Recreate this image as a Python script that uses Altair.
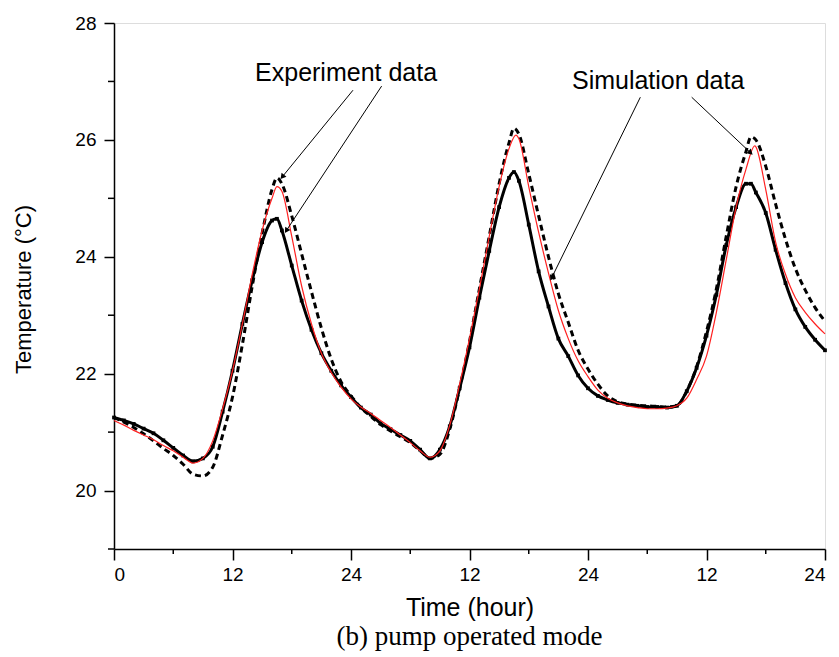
import math
import altair as alt
import pandas as pd

# ---- data ----
hours_exp = [0, 1, 2, 3, 4, 5, 6, 7, 8, 9, 10, 11, 12, 13, 14, 15, 16, 16.5, 17, 18, 19, 20,
             21, 22, 23, 24, 25, 26, 27, 28, 29, 30, 31, 32, 33, 34, 35, 36, 37, 38, 39, 40, 40.5,
             41, 42, 43, 44, 45, 46, 47, 48, 49, 50, 51, 52, 53, 54, 55, 56, 57, 58, 59, 60,
             61, 62, 63, 64, 64.5, 65, 66, 67, 68, 69, 70, 71, 72]

exp_solid = [21.25, 21.20, 21.14, 21.06, 20.98, 20.86, 20.73, 20.60, 20.50, 20.55, 20.75, 21.35,
             22.05, 22.85, 23.60, 24.25, 24.62, 24.65, 24.45, 23.85, 23.25, 22.75, 22.35, 22.05,
             21.80, 21.60, 21.42, 21.30, 21.15, 21.05, 20.95, 20.85, 20.70, 20.55, 20.70, 21.10,
             21.75, 22.45, 23.30, 24.10, 24.85, 25.35, 25.45, 25.30, 24.55, 23.75, 23.15, 22.60,
             22.30, 21.97, 21.75, 21.62, 21.55, 21.50, 21.47, 21.45, 21.43, 21.43, 21.42, 21.45,
             21.70, 22.10, 22.65, 23.35, 24.20, 24.85, 25.25, 25.25, 25.10, 24.75, 24.12, 23.55,
             23.10, 22.80, 22.58, 22.40]

exp_dashed = [21.25, 21.17, 21.08, 20.97, 20.85, 20.72, 20.60, 20.45, 20.28, 20.25, 20.40, 20.95,
              21.60, 22.50, 23.50, 24.40, 25.15, 25.35, 25.25, 24.70, 24.05, 23.40, 22.78, 22.25,
              21.86, 21.62, 21.42, 21.27, 21.13, 21.02, 20.92, 20.82, 20.68, 20.55, 20.62, 21.05,
              21.75, 22.55, 23.45, 24.35, 25.25, 25.95, 26.20, 26.10, 25.42, 24.70, 24.00, 23.37,
              22.88, 22.40, 22.08, 21.82, 21.62, 21.52, 21.48, 21.46, 21.45, 21.44, 21.43, 21.45,
              21.70, 22.12, 22.72, 23.45, 24.35, 25.20, 25.80, 26.05, 26.00, 25.55, 24.90, 24.30,
              23.80, 23.43, 23.13, 22.90]

hours_sim = [0, 1, 2, 3, 4, 5, 6, 7, 8, 9, 10, 11, 12, 13, 14, 15, 16, 16.5, 17, 18, 19, 20,
             21, 22, 23, 24, 25, 26, 27, 28, 29, 30, 31, 32, 33, 34, 35, 36, 37, 38, 39, 40, 40.7,
             41, 42, 43, 44, 45, 46, 47, 48, 49, 50, 51, 52, 53, 54, 55, 56, 57, 58, 59, 60,
             61, 62, 63, 64, 64.9, 65, 66, 67, 68, 69, 70, 71, 72]

simulation = [21.20, 21.12, 21.03, 20.95, 20.87, 20.77, 20.68, 20.57, 20.47, 20.55, 20.85, 21.40,
              22.05, 22.85, 23.70, 24.45, 25.00, 25.20, 25.12, 24.35, 23.50, 22.85, 22.35, 22.02,
              21.77, 21.57, 21.43, 21.32, 21.20, 21.08, 20.95, 20.82, 20.68, 20.57, 20.68, 21.12,
              21.82, 22.60, 23.45, 24.35, 25.20, 25.85, 26.08, 26.02, 25.20, 24.42, 23.72, 23.08,
              22.60, 22.22, 21.95, 21.72, 21.58, 21.50, 21.45, 21.42, 21.40, 21.40, 21.41, 21.45,
              21.58, 21.90, 22.30, 23.05, 23.95, 24.85, 25.50, 25.90, 25.88, 25.15, 24.25, 23.70,
              23.30, 23.05, 22.85, 22.68]

x_major = [0, 12, 24, 36, 48, 60, 72]
x_minor = [6, 18, 30, 42, 54, 66]
y_major = [20, 22, 24, 26, 28]
y_minor = [19, 21, 23, 25, 27]

label_text = ["Experiment data", "Simulation data"]
label_h = [23.5, 55.1]
label_t = [27.15, 27.0]

# arrows: start (hour, temp) -> tip (hour, temp)
arrow_h1 = [24.2, 27.1, 53.3, 58.5]
arrow_t1 = [26.85, 26.92, 26.73, 26.73]
arrow_h2 = [17.1, 17.5, 44.35, 64.4]
arrow_t2 = [25.38, 24.46, 23.65, 25.79]

W, H = 711, 526
X_DOM, Y_DOM = [0, 72], [19, 28]
FONT = "Liberation Sans"

df_solid = pd.DataFrame({"h": hours_exp, "T": exp_solid})
df_dash = pd.DataFrame({"h": hours_exp, "T": exp_dashed})
df_sim = pd.DataFrame({"h": hours_sim, "T": simulation})

xs = alt.Scale(domain=X_DOM, nice=False, zero=False)
ys = alt.Scale(domain=Y_DOM, nice=False, zero=False)

x_axis = alt.Axis(values=x_major, title="Time (hour)",
                  labelExpr="datum.value == 0 ? '0' : (datum.value % 24 == 0 ? '24' : '12')",
                  grid=False, tickSize=11, tickWidth=1.5, domainWidth=1.5, domainColor="black",
                  tickColor="black", labelColor="black", labelFont=FONT, labelFontSize=19,
                  labelPadding=5, titleFont=FONT, titleFontSize=25, titleFontWeight="normal",
                  titleColor="black", titleBaseline="alphabetic", titleY=66)
y_axis = alt.Axis(values=y_major, format="d", title="Temperature (°C)", grid=False, tickSize=10,
                  tickWidth=1.5, domainWidth=1.5, domainColor="black", tickColor="black",
                  labelColor="black", labelFont=FONT, labelFontSize=19, labelPadding=8,
                  titleFont=FONT, titleFontSize=22, titleFontWeight="normal", titleColor="black",
                  titleX=-91, titleY=266, titleBaseline="middle", titleAlign="center", titleAngle=-90)

base_x = alt.X("h:Q", scale=xs, axis=x_axis)
base_y = alt.Y("T:Q", scale=ys, axis=y_axis)

solid = alt.Chart(df_solid).mark_line(color="black", strokeWidth=3, interpolate="monotone").encode(
    x=base_x, y=base_y)
solid_pts = alt.Chart(df_solid).mark_point(shape="square", filled=True, color="black", size=14,
                                           opacity=1).encode(x="h:Q", y="T:Q")
dashed = alt.Chart(df_dash).mark_line(color="black", strokeWidth=3, strokeDash=[6, 4],
                                      interpolate="monotone").encode(x="h:Q", y="T:Q")
sim = alt.Chart(df_sim).mark_line(color="#ff2020", strokeWidth=1.2, interpolate="monotone").encode(
    x="h:Q", y="T:Q")

# minor ticks
df_xminor = pd.DataFrame({"h": x_minor})
xminor = alt.Chart(df_xminor).mark_rule(color="black", strokeWidth=1.5).encode(
    x="h:Q", y=alt.value(H), y2=alt.value(H + 5))
df_yminor = pd.DataFrame({"T": y_minor})
yminor = alt.Chart(df_yminor).mark_rule(color="black", strokeWidth=1.5).encode(
    y="T:Q", x=alt.value(-6), x2=alt.value(0))

# annotations
df_lab = pd.DataFrame({"text": label_text, "h": label_h, "T": label_t})
labels = alt.Chart(df_lab).mark_text(font=FONT, fontSize=25, color="black", align="center",
                                     baseline="middle").encode(x="h:Q", y="T:Q", text="text:N")

px_h = W / (X_DOM[1] - X_DOM[0])
px_t = H / (Y_DOM[1] - Y_DOM[0])
angles = []
for a, b, c, d in zip(arrow_h1, arrow_t1, arrow_h2, arrow_t2):
    dx = (c - a) * px_h
    dy = -(d - b) * px_t
    angles.append((math.degrees(math.atan2(dx, -dy)) + 360) % 360)
df_arr = pd.DataFrame({"h1": arrow_h1, "t1": arrow_t1, "h2": arrow_h2, "t2": arrow_t2,
                       "ang": angles})
arrow_lines = alt.Chart(df_arr).mark_rule(color="black", strokeWidth=1).encode(
    x="h1:Q", y="t1:Q", x2="h2:Q", y2="t2:Q")
arrow_heads = alt.Chart(df_arr).mark_point(shape="triangle", filled=True, color="black", size=40,
                                           opacity=1).encode(
    x="h2:Q", y="t2:Q", angle=alt.Angle("ang:Q", scale=None))

chart = alt.layer(solid, dashed, solid_pts, sim, xminor, yminor, arrow_lines, arrow_heads, labels).properties(
    width=W, height=H,
    padding={"left": 106, "top": 15, "right": 6, "bottom": 106},
    autosize=alt.AutoSizeParams(type="none"),
    title=alt.TitleParams("(b) pump operated mode", orient="bottom", anchor="middle", frame="group",
                          font="Liberation Serif", fontSize=27, fontWeight="normal", color="black",
                          offset=4),
).configure_view(strokeOpacity=0).configure(background="white")

chart.save("out.html", embed_options={"renderer": "svg", "actions": False})
